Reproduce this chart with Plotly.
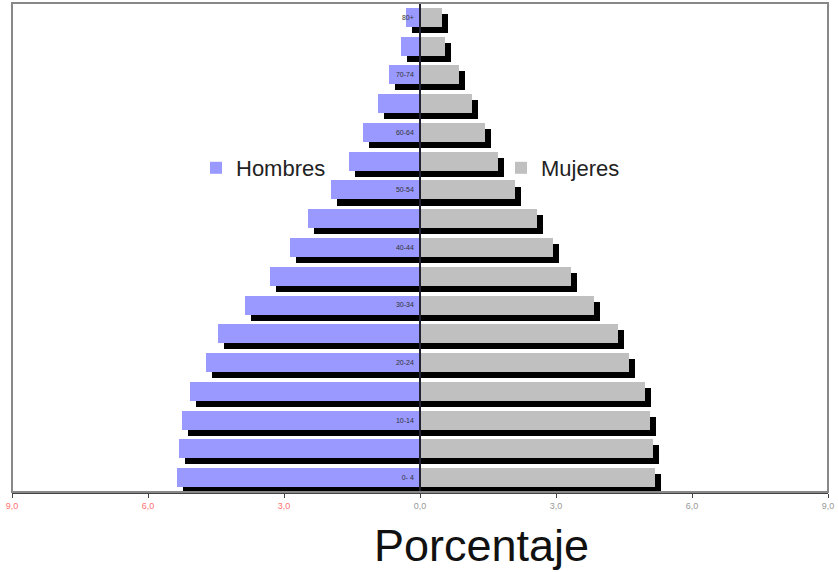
import plotly.graph_objects as go

# ---- data ----
age_groups = ["0- 4", "5-9", "10-14", "15-19", "20-24", "25-29", "30-34", "35-39",
              "40-44", "45-49", "50-54", "55-59", "60-64", "65-69", "70-74", "75-79", "80+"]
hombres = [5.36, 5.32, 5.24, 5.07, 4.73, 4.45, 3.86, 3.30, 2.86, 2.46, 1.96, 1.56,
           1.25, 0.93, 0.68, 0.41, 0.31]
mujeres = [5.18, 5.14, 5.08, 4.96, 4.61, 4.37, 3.83, 3.34, 2.93, 2.59, 2.09, 1.71,
           1.43, 1.15, 0.87, 0.56, 0.49]
shown_age_labels = ["0- 4", "10-14", "20-24", "30-34", "40-44", "50-54", "60-64", "70-74", "80+"]
x_tickvals = [-9, -6, -3, 0, 3, 6, 9]
x_ticktext = ["9,0", "6,0", "3,0", "0,0", "3,0", "6,0", "9,0"]

# ---- style ----
BLUE = "#9999ff"
GREY = "#c0c0c0"
FONT = "Liberation Sans, Arial, sans-serif"
BAR_W = 0.66
SHADOW_DY = 0.21      # in category units
SHADOW_DX = 0.132     # in % units

neg_h = [-v for v in hombres]

fig = go.Figure()
# shadows
fig.add_trace(go.Bar(y=age_groups, x=neg_h, base=SHADOW_DX, orientation="h",
                     width=BAR_W, offset=-BAR_W / 2 - SHADOW_DY,
                     marker=dict(color="black", line=dict(width=0)),
                     showlegend=False, hoverinfo="skip"))
fig.add_trace(go.Bar(y=age_groups, x=mujeres, base=SHADOW_DX, orientation="h",
                     width=BAR_W, offset=-BAR_W / 2 - SHADOW_DY,
                     marker=dict(color="black", line=dict(width=0)),
                     showlegend=False, hoverinfo="skip"))
# main bars
fig.add_trace(go.Bar(y=age_groups, x=neg_h, orientation="h", name="Hombres",
                     width=BAR_W, offset=-BAR_W / 2,
                     marker=dict(color=BLUE, line=dict(width=0)),
                     customdata=hombres, hovertemplate="%{y}: %{customdata}<extra>Hombres</extra>",
                     legend="legend"))
fig.add_trace(go.Bar(y=age_groups, x=mujeres, orientation="h", name="Mujeres",
                     width=BAR_W, offset=-BAR_W / 2,
                     marker=dict(color=GREY, line=dict(width=0)),
                     hovertemplate="%{y}: %{x}<extra>Mujeres</extra>",
                     legend="legend2"))

tick_colors = ["#ff7070", "#ff7070", "#ff7070", "#999999", "#999999", "#999999", "#999999"]
x_tick_html = [f"<span style='color:{c}'>{t}</span>" for t, c in zip(x_ticktext, tick_colors)]

fig.update_layout(
    width=838, height=572,
    margin=dict(l=12, r=10, t=3, b=80),
    paper_bgcolor="white", plot_bgcolor="white",
    barmode="overlay", bargap=0,
    font=dict(family=FONT, color="#222222"),
    xaxis=dict(range=[-9, 9], tickvals=x_tickvals, ticktext=x_tick_html,
               showgrid=False, zeroline=False, automargin=False,
               showline=True, linecolor="#444444", linewidth=2, mirror=False,
               ticks="outside", ticklen=4, tickwidth=1, tickcolor="#444444",
               tickfont=dict(size=9, family=FONT)),
    yaxis=dict(type="category", categoryorder="array", categoryarray=age_groups,
               range=[-0.5, len(age_groups) - 0.5],
               anchor="free", position=0.5, automargin=False,
               showline=True, linecolor="#222233", linewidth=1.5,
               showgrid=False, zeroline=False,
               tickvals=shown_age_labels, ticktext=shown_age_labels,
               ticks="", ticklabelstandoff=4,
               tickfont=dict(size=7, color="#333333", family=FONT)),
    legend=dict(x=(196 - 12) / 816, y=(492 - 168) / 489, xanchor="left", yanchor="middle",
                bgcolor="rgba(0,0,0,0)", font=dict(size=22, family=FONT, color="#222222"),
                itemclick=False),
    legend2=dict(x=(501 - 12) / 816, y=(492 - 168) / 489, xanchor="left", yanchor="middle",
                 bgcolor="rgba(0,0,0,0)", font=dict(size=22, family=FONT, color="#222222"),
                 itemclick=False),
    shapes=[dict(type="rect", xref="paper", yref="paper", x0=0, x1=1, y0=0, y1=1,
                 line=dict(color="#888888", width=2), fillcolor="rgba(0,0,0,0)", layer="above")],
    annotations=[dict(text="Porcentaje", xref="paper", yref="paper",
                      x=(482 - 12) / 816, y=-(545 - 492) / 489,
                      xanchor="center", yanchor="middle", showarrow=False,
                      font=dict(size=45, family=FONT, color="#111111"))],
)

fig.write_html("out.html", config={"displayModeBar": False},
               post_script="document.body.style.margin='0';")
